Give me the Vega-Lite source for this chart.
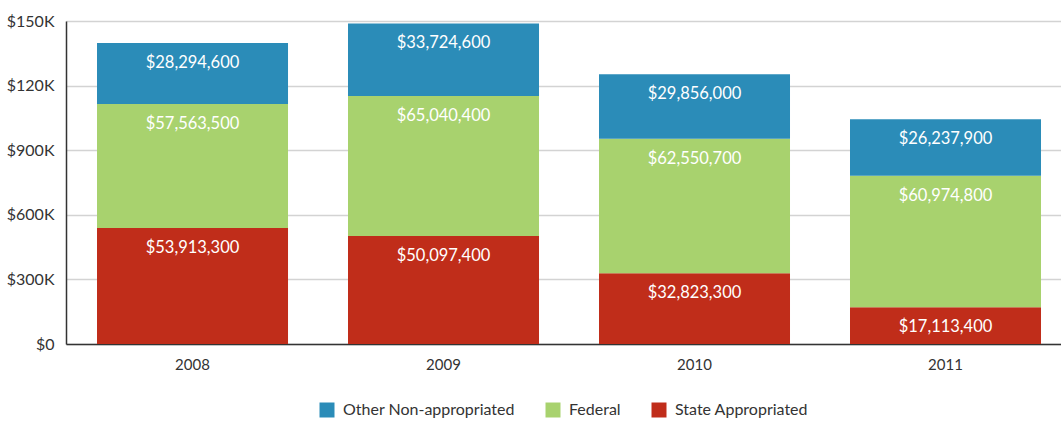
{
  "$schema": "https://vega.github.io/schema/vega-lite/v6.json",
  "width": 995,
  "height": 323,
  "autosize": "none",
  "padding": {"left": 66, "top": 21, "right": 0, "bottom": 78},
  "background": "white",
  "config": {
    "font": "Lato",
    "view": {"stroke": null},
    "axis": {"labelFont": "Lato", "labelColor": "#333333", "labelFontSize": 16, "domainColor": "#333333", "domainWidth": 1.5, "ticks": false, "gridColor": "#d3d3d3", "gridWidth": 1.5},
    "legend": {"labelFont": "Lato", "labelFontSize": 16, "labelColor": "#333333", "labelLimit": 0}
  },
  "data": {
    "values": [
      {"year": "2008", "source": "State Appropriated", "value": 53913300},
      {"year": "2008", "source": "Federal", "value": 57563500},
      {"year": "2008", "source": "Other Non-appropriated", "value": 28294600},
      {"year": "2009", "source": "State Appropriated", "value": 50097400},
      {"year": "2009", "source": "Federal", "value": 65040400},
      {"year": "2009", "source": "Other Non-appropriated", "value": 33724600},
      {"year": "2010", "source": "State Appropriated", "value": 32823300},
      {"year": "2010", "source": "Federal", "value": 62550700},
      {"year": "2010", "source": "Other Non-appropriated", "value": 29856000},
      {"year": "2011", "source": "State Appropriated", "value": 17113400},
      {"year": "2011", "source": "Federal", "value": 60974800},
      {"year": "2011", "source": "Other Non-appropriated", "value": 26237900}
    ]
  },
  "transform": [
    {"calculate": "indexof(['State Appropriated','Federal','Other Non-appropriated'], datum.source)", "as": "ord"},
    {"stack": "value", "groupby": ["year"], "sort": [{"field": "ord", "order": "ascending"}], "as": ["v0", "v1"]}
  ],
  "encoding": {
    "x": {
      "field": "year", "type": "nominal", "title": null,
      "scale": {"paddingInner": 0.239, "paddingOuter": 0.1016, "align": 0.608},
      "axis": {"labelAngle": 0, "labelPadding": 13, "labelFontSize": 15, "grid": false}
    }
  },
  "layer": [
    {
      "mark": {"type": "bar"},
      "encoding": {
        "y": {
          "field": "v0", "type": "quantitative", "title": null,
          "scale": {"domain": [0, 150000000], "nice": false},
          "axis": {"values": [0, 30000000, 60000000, 90000000, 120000000, 150000000], "labelPadding": 12,
            "labelExpr": "datum.value == 0 ? '$0' : (datum.value < 100000000 ? '$' + (datum.value / 100000) + 'K' : '$' + (datum.value / 1000000) + 'K')"}
        },
        "y2": {"field": "v1"},
        "color": {
          "field": "source", "type": "nominal",
          "scale": {"domain": ["Other Non-appropriated", "Federal", "State Appropriated"], "range": ["#2b8cb8", "#a8d26e", "#c02d1a"]},
          "legend": {"title": null, "orient": "none", "direction": "horizontal", "legendX": 253, "legendY": 381, "symbolType": "square", "symbolSize": 225, "symbolStrokeWidth": 0, "symbolOpacity": 1, "columnPadding": 30, "labelOffset": 8, "labelLimit": 0}
        }
      }
    },
    {
      "mark": {"type": "text", "color": "white", "fontSize": 16.5, "baseline": "middle", "dy": 20},
      "encoding": {
        "y": {"field": "v1", "type": "quantitative"},
        "text": {"field": "value", "type": "quantitative", "format": "$,d"}
      }
    }
  ]
}
